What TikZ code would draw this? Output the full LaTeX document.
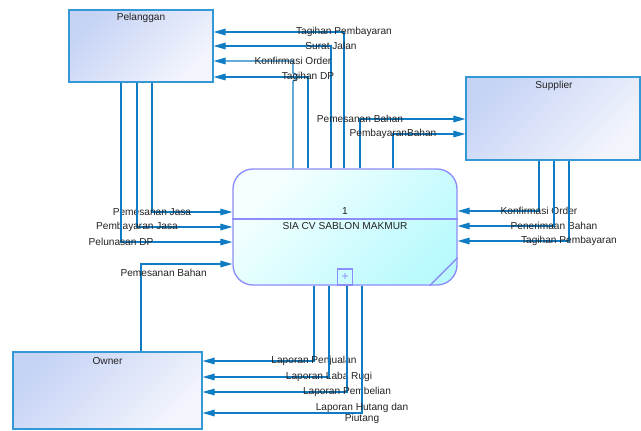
\documentclass[tikz,border=0pt]{standalone}
\usepackage{fontspec}
\setmainfont{Liberation Sans}
\usetikzlibrary{arrows.meta,calc}

\definecolor{flowblue}{RGB}{16,124,196}
\definecolor{entline}{RGB}{52,152,214}
\definecolor{entdark}{RGB}{198,211,245}
\definecolor{entlight}{RGB}{243,245,253}
\definecolor{procline}{RGB}{140,140,250}
\definecolor{proclight}{RGB}{246,255,255}
\definecolor{procdark}{RGB}{186,250,253}
\definecolor{txt}{RGB}{34,34,34}

\tikzset{
  entity/.style={draw=entline, line width=1pt, top color=entdark, bottom color=entlight, shading angle=45, inner sep=0pt},
  process/.style={draw=procline, line width=1pt, rounded corners=15pt, top color=proclight, bottom color=procdark, shading angle=45, inner sep=0pt, minimum width=168pt, minimum height=87pt},
  flow/.style={->, draw=flowblue, line width=0.8pt},
  lbl/.style={font=\fontsize{7.6}{8.4}\selectfont, text=txt, inner sep=0pt},
}

\begin{document}
\begin{tikzpicture}[x=0.75pt,y=-0.75pt,>={Triangle[length=9pt,width=5pt]}]
  \useasboundingbox (0,0) rectangle (641,430);

  \node[entity, minimum width=108pt, minimum height=54pt] (pelanggan) at (141,46) {};
  \node[entity, minimum width=130.5pt, minimum height=62.25pt] (supplier) at (553,118.5) {};
  \node[entity, minimum width=141.75pt, minimum height=57.75pt] (owner) at (107.5,390.5) {};
  \node[process] (sia) at (345,227) {};

  \node[lbl] (pelangganName) at (141,18) {Pelanggan};
  \node[lbl] (supplierName) at (554,86) {Supplier};
  \node[lbl] (ownerName) at (107.5,361) {Owner};

  \coordinate (div) at (0,219);
  \draw[procline, line width=1pt] (sia.west |- div) -- (sia.east |- div);
  \node[lbl] (siaNum) at (345,211) {1};
  \node[lbl] (siaName) at (345,226.5) {SIA CV SABLON MAKMUR};
  \node[draw=procline, line width=1pt, minimum width=11.25pt, minimum height=12pt, inner sep=0pt,
        anchor=south, text=procline, font=\fontsize{9}{9}\selectfont] (siaSub) at (sia.south) {+};
  \draw[procline, line width=1pt] ($(sia.south east)+(0,-28)$) -- ($(sia.south east)+(-28,0)$);

  \coordinate (tpP) at (344,32);
  \coordinate (sj) at (331,46);
  \coordinate (koP) at (293,61);
  \coordinate (dp) at (308,77);
  \coordinate (pbS) at (360,119);
  \coordinate (byS) at (393,134);
  \coordinate (koS) at (539,211);
  \coordinate (tb) at (554,226);
  \coordinate (tpS) at (569,241);
  \coordinate (pj) at (152,212);
  \coordinate (bj) at (137,227);
  \coordinate (pd) at (121,242);
  \coordinate (pbO) at (141,264);
  \coordinate (lp) at (314,361);
  \coordinate (lr) at (329,377);
  \coordinate (lb) at (347,392);
  \coordinate (lh) at (362,413);

  \draw[flow] (sia.north -| tpP) |- node[lbl] {Tagihan Pembayaran} (pelanggan.east |- tpP);
  \draw[flow] (sia.north -| sj) |- node[lbl] {Surat Jalan} (pelanggan.east |- sj);
  \draw[flow] (sia.north -| koP) -- ($(koP |- dp)+(0,4)$) arc[start angle=-90, end angle=90, radius=3pt]
    -- (koP) node[lbl] {Konfirmasi Order} -- (pelanggan.east |- koP);
  \draw[flow] (sia.north -| dp) |- node[lbl] {Tagihan DP} (pelanggan.east |- dp);

  \draw[flow] (sia.north -| pbS) |- node[lbl] {Pemesanan Bahan} (supplier.west |- pbS);
  \draw[flow] (sia.north -| byS) |- node[lbl] {PembayaranBahan} (supplier.west |- byS);

  \draw[flow] (supplier.south -| koS) |- node[lbl] {Konfirmasi Order} (sia.east |- koS);
  \draw[flow] (supplier.south -| tb) |- node[lbl] {Penerimaan Bahan} (sia.east |- tb);
  \draw[flow] (supplier.south -| tpS) |- node[lbl] {Tagihan Pembayaran} (sia.east |- tpS);

  \draw[flow] (pelanggan.south -| pj) |- node[lbl] {Pemesanan Jasa} (sia.west |- pj);
  \draw[flow] (pelanggan.south -| bj) |- node[lbl] {Pembayaran Jasa} (sia.west |- bj);
  \draw[flow] (pelanggan.south -| pd) |- node[lbl] {Pelunasan DP} (sia.west |- pd);
  \draw[flow] (owner.north -| pbO) |- node[lbl, xshift=17pt, yshift=-6.75pt] {Pemesanan Bahan} (sia.west |- pbO);

  \draw[flow] (sia.south -| lp) |- node[lbl] {Laporan Penjualan} (owner.east |- lp);
  \draw[flow] (sia.south -| lr) |- node[lbl] {Laporan Laba Rugi} (owner.east |- lr);
  \draw[flow] (sia.south -| lb) |- node[lbl] {Laporan Pembelian} (owner.east |- lb);
  \draw[flow] (sia.south -| lh) |- node[lbl, align=center] {Laporan Hutang dan\\Piutang} (owner.east |- lh);
\end{tikzpicture}
\end{document}
